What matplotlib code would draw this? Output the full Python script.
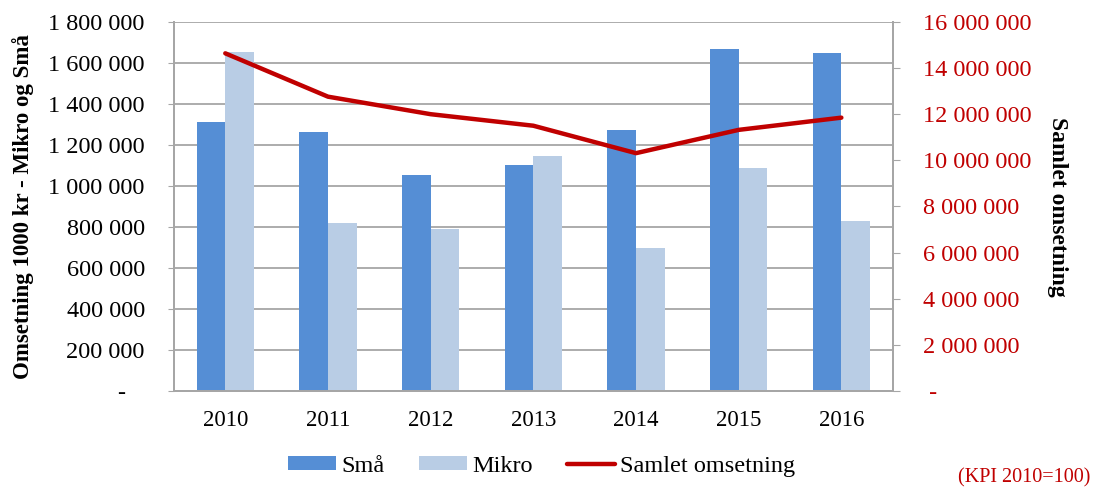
import numpy as np
import matplotlib
matplotlib.use('Agg')
import matplotlib.pyplot as plt
from matplotlib.ticker import FuncFormatter, MultipleLocator

years = ['2010', '2011', '2012', '2013', '2014', '2015', '2016']
sma = [1314000, 1265000, 1054000, 1102000, 1272000, 1667000, 1649000]
mikro = [1655000, 818000, 790000, 1146000, 698000, 1086000, 829000]
samlet = [14640000, 12760000, 12000000, 11500000, 10310000, 11320000, 11850000]

plt.rcParams['font.family'] = ['Liberation Serif', 'DejaVu Serif']

c_sma = '#558ED5'
c_mikro = '#B9CDE5'
c_line = '#C00000'
c_grid = '#A6A6A6'


def fmt_left(v, pos):
    if v == 0:
        return '-   '
    return '{:,.0f}'.format(v).replace(',', ' ')


def fmt_right(v, pos):
    if v == 0:
        return ' -'
    return '{:,.0f}'.format(v).replace(',', ' ')


fig = plt.figure(figsize=(10.94, 4.88), dpi=100)
ax = fig.add_axes([0.159, 0.199, 0.657, 0.756])
ax2 = ax.twinx()

x = np.arange(len(years))
w = 0.28
ax.bar(x - w / 2, sma, w, color=c_sma, label='Små', zorder=2)
ax.bar(x + w / 2, mikro, w, color=c_mikro, label='Mikro', zorder=2)
ax2.plot(x, samlet, color=c_line, lw=3.2, label='Samlet omsetning',
         solid_capstyle='round')

ax.set_xlim(-0.5, len(years) - 0.5)
ax.set_ylim(0, 1800000)
ax2.set_ylim(0, 16000000)
ax.yaxis.set_major_locator(MultipleLocator(200000))
ax2.yaxis.set_major_locator(MultipleLocator(2000000))
ax.yaxis.set_major_formatter(FuncFormatter(fmt_left))
ax2.yaxis.set_major_formatter(FuncFormatter(fmt_right))

ax.set_axisbelow(True)
ax.grid(axis='y', color=c_grid, lw=1.3, zorder=0)
ax.set_xticks(x)
ax.set_xticklabels(years)

for a in (ax, ax2):
    for s in a.spines.values():
        s.set_color(c_grid)
        s.set_linewidth(1.3)
    a.spines['top'].set_visible(False)

ax.tick_params(axis='x', length=0, labelsize=16.5, pad=14)
ax.tick_params(axis='y', length=4, color=c_grid, labelsize=17.5, pad=17)
ax2.tick_params(axis='y', length=5, color=c_grid, labelsize=17.5,
                labelcolor=c_line, pad=17)

ax.set_ylabel('Omsetning 1000 kr - Mikro og Små', fontsize=16.5,
              fontweight='bold', labelpad=10)
ax2.set_ylabel('Samlet omsetning', fontsize=17, fontweight='bold',
               rotation=270, labelpad=26)

h1, l1 = ax.get_legend_handles_labels()
h2, l2 = ax2.get_legend_handles_labels()
fig.legend(h1 + h2, l1 + l2, loc='center', bbox_to_anchor=(0.495, 0.045),
           ncol=3, frameon=False, fontsize=17.5, handlelength=2.0,
           handleheight=0.5, handletextpad=0.2, columnspacing=1.4)

fig.text(0.997, 0.02, '(KPI 2010=100)', color=c_line, fontsize=14.5,
         ha='right', va='center')

fig.savefig('out.png', dpi=100)
